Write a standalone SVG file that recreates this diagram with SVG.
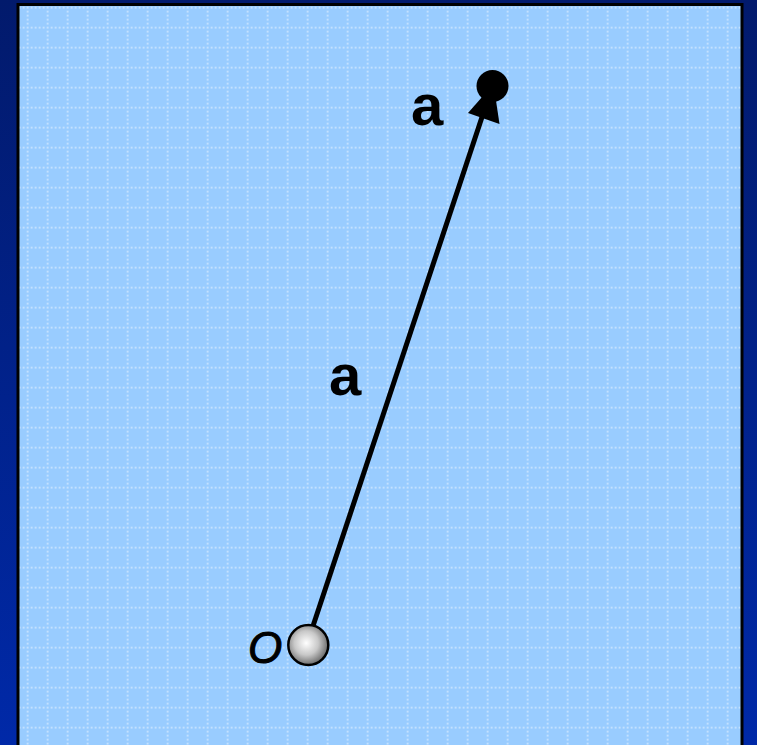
<svg xmlns="http://www.w3.org/2000/svg" width="757" height="745" viewBox="0 0 757 745">
<defs>
<linearGradient id="bg" x1="0" y1="0" x2="0" y2="1">
<stop offset="0" stop-color="#021a6c"/>
<stop offset="1" stop-color="#0029a8"/>
</linearGradient>
<pattern id="grid" x="6.7" y="6.7" width="20" height="20" patternUnits="userSpaceOnUse">
<rect width="20" height="20" fill="#99ccff"/>
<g fill="#c8e4ff">
<rect x="0" y="0" width="1.8" height="1.8"/>
<rect x="4" y="0" width="1.8" height="1.8"/>
<rect x="8" y="0" width="1.8" height="1.8"/>
<rect x="12" y="0" width="1.8" height="1.8"/>
<rect x="16" y="0" width="1.8" height="1.8"/>
<rect x="0" y="4" width="1.8" height="1.8"/>
<rect x="0" y="8" width="1.8" height="1.8"/>
<rect x="0" y="12" width="1.8" height="1.8"/>
<rect x="0" y="16" width="1.8" height="1.8"/>
</g>
</pattern>
<radialGradient id="ball" cx="0.45" cy="0.45" r="0.6">
<stop offset="0" stop-color="#ffffff"/>
<stop offset="0.5" stop-color="#c8c8c8"/>
<stop offset="1" stop-color="#5a5a5a"/>
</radialGradient>
<style>
.lbl{font-family:"Liberation Sans",Arial,sans-serif;fill:#000}
.bold{font-weight:bold;font-size:58px}
</style>
</defs>
<rect width="757" height="745" fill="url(#bg)"/>
<rect x="18" y="4.5" width="724" height="760" fill="url(#grid)" stroke="#000" stroke-width="3"/>
<g id="connectors">
<line x1="313" y1="626" x2="489" y2="96" stroke="#000" stroke-width="5"/>
<path d="M493.5,84 L499.5,124 L468,113 Z" fill="#000"/>
</g>
<g id="origin">
<circle cx="308.3" cy="645" r="20" fill="url(#ball)" stroke="#000" stroke-width="2.5"/>
<text class="lbl" x="248" y="663" font-size="44" font-style="italic" stroke="#000" stroke-width="1">O</text>
</g>
<g id="tip">
<circle cx="492.5" cy="86" r="16" fill="#000"/>
<text class="lbl bold" x="411" y="125">a</text>
</g>
<g id="vector-label">
<text class="lbl bold" x="329" y="395">a</text>
</g>
</svg>
